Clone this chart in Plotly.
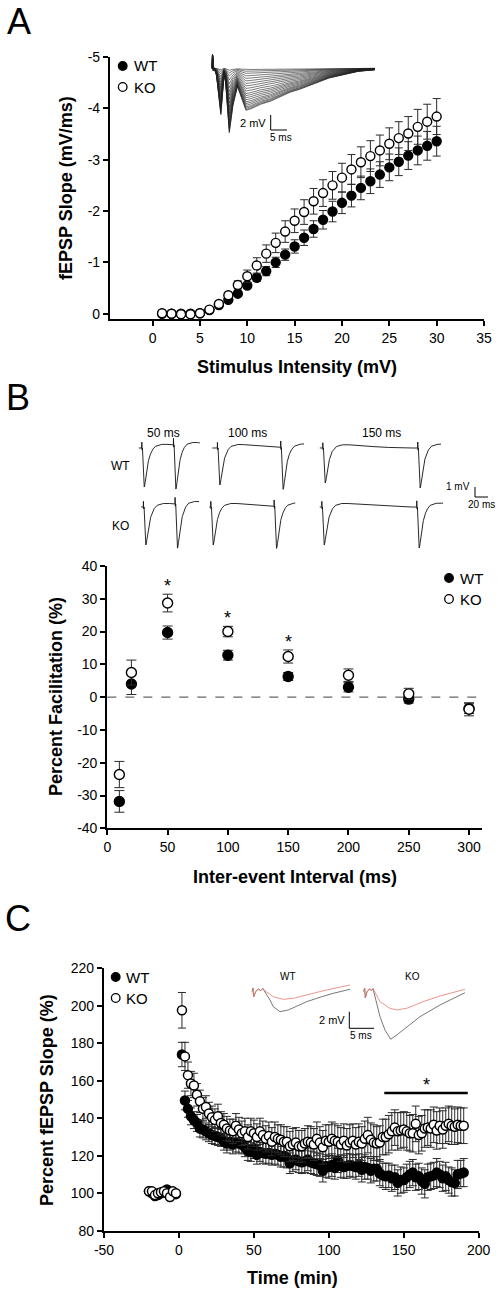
import numpy as np
import plotly.graph_objects as go

W, H = 498, 1293


def fx(px):
    return px / W


def fy(py):
    return 1 - py / H


FONT = "Liberation Sans, Arial, sans-serif"

# ---------------- Panel A : input-output ----------------
a_intensity = list(range(1, 31))
a_wt = [0.0, 0.0, 0.0, 0.0, -0.01, -0.07, -0.17, -0.27, -0.39, -0.55,
        -0.70, -0.83, -1.00, -1.15, -1.31, -1.48, -1.65, -1.83, -1.99, -2.16,
        -2.30, -2.45, -2.58, -2.71, -2.85, -2.96, -3.08, -3.18, -3.27, -3.36]
a_wt_err = [0.01, 0.01, 0.01, 0.01, 0.01, 0.02, 0.03, 0.03, 0.04, 0.06,
            0.07, 0.09, 0.10, 0.11, 0.13, 0.15, 0.16, 0.18, 0.20, 0.21,
            0.22, 0.23, 0.24, 0.25, 0.26, 0.27, 0.27, 0.28, 0.28, 0.29]
a_ko = [-0.01, 0.0, 0.01, 0.01, -0.01, -0.08, -0.19, -0.36, -0.56, -0.73,
        -0.94, -1.17, -1.38, -1.60, -1.81, -1.98, -2.19, -2.35, -2.50, -2.65,
        -2.81, -2.95, -3.07, -3.18, -3.31, -3.42, -3.51, -3.64, -3.74, -3.84]
a_ko_err = [0.01, 0.01, 0.01, 0.01, 0.01, 0.02, 0.03, 0.05, 0.08, 0.12,
            0.15, 0.17, 0.19, 0.21, 0.23, 0.24, 0.25, 0.26, 0.27, 0.28,
            0.29, 0.30, 0.30, 0.30, 0.31, 0.32, 0.33, 0.34, 0.34, 0.35]
a_xticks = [0, 5, 10, 15, 20, 25, 30, 35]
a_yticks = [-5, -4, -3, -2, -1, 0]
a_yticktext = ["-5", "-4", "-3", "-2", "-1", "0"]

# inset: largest evoked trace (ms, mV) and relative scale of the family
a_trace_t = [0, 0.25, 0.5, 0.8, 1.5, 2.8, 3.8, 4.3, 5.4, 6.5, 7.9, 9.0, 10.5, 12, 15,
             18, 21, 24, 27, 30, 33, 36, 40, 45, 50]
a_trace_v = [0, 1.8, -0.3, 0, -1.0, -6.2, -0.8, -2.0, -8.6, -5.0, -2.4, -3.8, -5.6, -5.4, -4.8,
             -4.4, -3.8, -3.2, -2.8, -2.3, -1.7, -1.3, -0.9, -0.4, -0.2]
a_trace_scale = [0.03, 0.07, 0.12, 0.18, 0.24, 0.30, 0.36, 0.42, 0.48, 0.54, 0.60,
                 0.65, 0.70, 0.75, 0.80, 0.84, 0.88, 0.92, 0.95, 0.98, 1.0]

# ---------------- Panel B : paired-pulse ----------------
b_interval = [10, 20, 50, 100, 150, 200, 250, 300]
b_wt = [-31.8, 4.0, 19.7, 12.8, 6.3, 3.0, -0.6, -3.5]
b_wt_err = [3.3, 3.2, 2.0, 1.5, 1.2, 1.4, 1.2, 1.5]
b_ko = [-23.6, 7.5, 28.7, 20.0, 12.4, 6.7, 1.0, -3.7]
b_ko_err = [4.0, 3.8, 2.7, 1.6, 2.0, 1.9, 1.7, 2.0]
b_sig = [50, 100, 150]
b_xticks = [0, 50, 100, 150, 200, 250, 300]
b_yticks = [-40, -30, -20, -10, 0, 10, 20, 30, 40]
b_yticktext = ["-40", "-30", "-20", "-10", "0", "10", "20", "30", "40"]

# sample PPF traces: normalised response template (ms after stimulus, fraction)
b_tmpl_t = [0, 0.2, 0.6, 1.2, 2.0, 3.0, 4.0, 5.0, 6.5, 8.5, 11, 15, 20, 27, 35, 50, 80, 120, 400]
b_tmpl_v = [0, 0.15, -0.05, 0.0, -0.35, -0.85, -1.0, -0.95, -0.75, -0.5, -0.3, -0.1,
            0.03, 0.08, 0.1, 0.08, 0.04, 0.0, 0.0]
b_isi = [50, 100, 150]
b_wt_amp = [(3.9, 4.4), (3.7, 4.2), (3.5, 4.0)]
b_ko_amp = [(3.8, 4.4), (3.8, 4.2), (3.8, 4.1)]
b_wt_span = [(-5, 92), (-8, 137), (-5, 187)]
b_ko_span = [(-3.5, 88), (-2.5, 134), (-3.5, 192)]

# ---------------- Panel C : LTP time course ----------------
c_time_base = [-20, -18, -16, -14, -12, -10, -8, -6, -4, -2]
c_wt_base = [101, 100, 98.5, 99, 100, 100.5, 102, 100.5, 100, 99.5]
c_ko_base = [101, 101, 99, 100, 100.5, 101, 100, 98, 101, 100]
c_wt_base_err = [1.2, 1.0, 1.3, 1.1, 1.2, 1.0, 1.4, 1.2, 1.1, 1.2]
c_ko_base_err = [1.3, 1.2, 1.4, 1.1, 1.3, 1.2, 1.2, 1.5, 1.3, 1.2]
c_time_post = list(range(2, 191, 2))
c_wt_post = [174, 149.5, 145, 141, 139, 137.5, 134.5, 134, 133, 132,
             131, 130.5, 130, 129.5, 127.5, 126.5, 127.5, 126, 127, 126.5,
             126, 124.5, 122.5, 122, 124, 120.5, 122, 121.5, 121, 121.5,
             120.5, 121, 120.5, 119.5, 120, 119, 116, 117.5, 118, 117,
             116.5, 117, 118, 116.5, 116, 115.5, 115, 112, 114.5, 114,
             115, 113.5, 117.5, 114.5, 114, 114.5, 115, 114.5, 114, 115,
             112.5, 114, 113.5, 112, 113, 113, 110.5, 109.5, 109, 109.5,
             108, 108.5, 105.5, 107, 107, 108.5, 110, 111, 108.5, 109,
             106.5, 105, 108.5, 109, 109.5, 111, 110, 108, 109, 107,
             106, 105.5, 110, 110.5, 111]
c_wt_post_err = [6.5, 5, 4.5, 4.5, 4.5, 4.5, 4.5, 4.5, 4.5, 4.5,
                 4.5, 4.5, 4.5, 4.5, 4.5, 5, 4.5, 5, 5, 5,
                 5, 5, 5, 5, 5.5, 5, 5, 5.5, 5.5, 5.5,
                 5.5, 5.5, 5.5, 5.5, 6, 5.5, 5.5, 6, 5.5, 6,
                 6, 6, 6, 6, 6, 6, 6, 6, 6, 6,
                 6, 6, 6.5, 6, 6, 6.5, 6, 6, 6.5, 6,
                 6.5, 6.5, 6, 6.5, 6.5, 6.5, 6.5, 6.5, 7, 6.5,
                 7, 6.5, 7, 7, 6.5, 7, 7, 7, 7, 7,
                 7, 7.5, 7, 7, 7, 7.5, 7, 7, 7.5, 7,
                 7.5, 7, 7.5, 7, 7.5]
c_ko_post = [197.6, 173, 163, 158.5, 157.5, 152.5, 149, 145, 146, 142.5,
             140.5, 139, 141, 137.5, 136.5, 134.5, 133.5, 133, 136, 134,
             132, 133, 130, 133, 132, 130, 133, 131, 129, 130.5,
             127.5, 130, 129, 128.5, 127.5, 127.5, 125, 126, 127, 125,
             125, 126.5, 127.5, 127, 126, 129, 127, 124.5, 128, 127.5,
             129, 128, 127.5, 126, 128, 125.5, 127, 128, 126, 127.5,
             126.5, 129, 131, 128.5, 127, 126.5, 127, 130, 130, 131.5,
             133, 135, 133, 133.5, 134, 133, 132, 132, 137, 131,
             132, 134.5, 135, 134.5, 136.5, 133.5, 136, 134, 136, 137,
             136, 135.5, 136.5, 136, 136]
c_ko_post_err = [9.5, 7.5, 7, 6.5, 6.5, 6, 6, 6, 6, 6,
                 6, 6, 6.5, 6, 6, 6.5, 6, 6.5, 6.5, 6.5,
                 6.5, 7, 6.5, 7, 7, 7, 7, 7.5, 7, 7.5,
                 7.5, 8, 7.5, 8, 8, 8, 8, 8.5, 8, 8.5,
                 8.5, 8, 8.5, 8.5, 8.5, 9, 8.5, 9, 8.5, 9,
                 9, 9, 8.5, 9, 9, 9, 9.5, 9, 9, 9.5,
                 9, 9.5, 9.5, 9, 9.5, 9, 9, 9.5, 9.5, 10,
                 10, 9.5, 10, 9.5, 9.5, 10, 9.5, 10, 9.5, 10,
                 9.5, 10, 9.5, 10, 9.5, 10, 9.5, 10, 9.5, 9.5,
                 10, 9.5, 9.5, 9.5, 9.5]
c_sig_start, c_sig_end, c_sig_level = 137, 192.7, 153.5
c_xticks = [-50, 0, 50, 100, 150, 200]
c_xticktext = ["-50", "0", "50", "100", "150", "200"]
c_yticks = [80, 100, 120, 140, 160, 180, 200, 220]

# inset traces (ms, mV): baseline (black) and post-LTP (red)
c_wt_black_t = [0, 0.26, 0.38, 0.81, 1.34, 1.82, 2.23, 2.69, 3.7, 4.37, 5.73, 7.41, 9.11, 11.13, 13.83, 16.52, 19.9]
c_wt_black_v = [0, 0.45, -0.64, 0, 0.33, 0.12, 0.41, 0, -1.0, -1.81, -2.41, -2.2, -1.72, -1.2, -0.67, -0.19, 0.29]
c_wt_red_t = [0, 0.26, 0.38, 0.81, 1.34, 1.82, 2.23, 2.69, 4.37, 6.4, 8.42, 11.13, 14.49, 19.9]
c_wt_red_v = [0, 0.45, -0.64, 0, 0.33, 0.12, 0.41, 0.12, -0.6, -0.92, -0.8, -0.4, 0.12, 0.81]
c_ko_black_t = [0, 0.28, 0.4, 0.75, 1.26, 1.66, 1.96, 2.71, 3.38, 4.39, 5.55, 6.76, 8.79, 11.48, 15.53, 20.59]
c_ko_black_v = [0, 0.45, -0.76, 0, 0.33, 0.14, 0.39, -1.4, -3.01, -4.61, -5.73, -5.22, -4.22, -3.01, -1.6, -0.12]
c_ko_red_t = [0, 0.28, 0.4, 0.75, 1.26, 1.66, 1.96, 2.71, 3.38, 5.4, 6.76, 8.79, 12.15, 15.53, 20.59]
c_ko_red_v = [0, 0.45, -0.76, 0, 0.33, 0.14, 0.39, -0.4, -1.2, -2.0, -2.2, -2.0, -1.2, -0.52, 0.29]

# ---------------------------------------------------------------
fig = go.Figure()
ERR = "#2a2a2a"


def add_series(x, y, err, xa, ya, filled, size, cap, lw=1.4):
    fig.add_trace(go.Scatter(
        x=x, y=y, mode="markers", xaxis=xa, yaxis=ya, showlegend=False, cliponaxis=False,
        error_y=dict(type="data", array=err, visible=True, color=ERR, thickness=1, width=cap),
        marker=dict(size=size, color="black" if filled else "white",
                    line=dict(color="black", width=lw))))


def add_line(x, y, xa, ya, color="#333333", width=0.7):
    fig.add_trace(go.Scatter(x=x, y=y, mode="lines", xaxis=xa, yaxis=ya, showlegend=False,
                             line=dict(color=color, width=width), hoverinfo="skip"))


# Panel A
add_series(a_intensity, a_wt, a_wt_err, "x", "y", True, 9, 4)
add_series(a_intensity, a_ko, a_ko_err, "x", "y", False, 9, 4)
for s in a_trace_scale:
    v = [s * val for val in a_trace_v]
    v[1] = a_trace_v[1]
    add_line(a_trace_t, v, "x4", "y4", color="#222222", width=0.6)

# Panel B
add_series(b_interval, b_wt, b_wt_err, "x2", "y2", True, 10, 5)
add_series(b_interval, b_ko, b_ko_err, "x2", "y2", False, 10, 5)


def ppf_trace(span, amp, isi):
    t = np.arange(span[0], span[1] + 0.01, 0.1)
    r1 = np.interp(t, b_tmpl_t, b_tmpl_v, left=0.0)
    r2 = np.interp(t - isi, b_tmpl_t, b_tmpl_v, left=0.0)
    return t, amp[0] * r1 + amp[1] * r2


for i in range(3):
    t, v = ppf_trace(b_wt_span[i], b_wt_amp[i], b_isi[i])
    add_line(t, v, "x%d" % (5 + i), "y%d" % (5 + i), color="#111111", width=0.9)
    t, v = ppf_trace(b_ko_span[i], b_ko_amp[i], b_isi[i])
    add_line(t, v, "x%d" % (8 + i), "y%d" % (8 + i), color="#111111", width=0.9)

# Panel C
add_series(c_time_base, c_wt_base, c_wt_base_err, "x3", "y3", True, 9, 4, lw=1.5)
add_series(c_time_post, c_wt_post, c_wt_post_err, "x3", "y3", True, 9, 4, lw=1.5)
add_series(c_time_base, c_ko_base, c_ko_base_err, "x3", "y3", False, 9, 4, lw=1.5)
add_series(c_time_post, c_ko_post, c_ko_post_err, "x3", "y3", False, 9, 4, lw=1.5)
add_line(c_wt_black_t, c_wt_black_v, "x11", "y11", color="#555555", width=0.8)
add_line(c_wt_red_t, c_wt_red_v, "x11", "y11", color="#e8786c", width=0.8)
add_line(c_ko_black_t, c_ko_black_v, "x12", "y12", color="#555555", width=0.8)
add_line(c_ko_red_t, c_ko_red_v, "x12", "y12", color="#e8786c", width=0.8)


# ---------------- axes ----------------
def main_axis(domain, rng, tickvals, ticktext, anchor):
    d = dict(domain=domain, range=rng, tickvals=tickvals, anchor=anchor,
             showline=True, linewidth=2.2, linecolor="black", ticks="outside", ticklen=5,
             tickwidth=1.5, tickcolor="black", showgrid=False, zeroline=False,
             tickfont=dict(family=FONT, size=14, color="black"), fixedrange=True,
             automargin=False)
    if ticktext is not None:
        d["ticktext"] = ticktext
    return d


def hidden_axis(domain, rng, anchor):
    return dict(domain=domain, range=rng, anchor=anchor, visible=False, fixedrange=True,
                showgrid=False, zeroline=False)


layout = dict(
    width=W, height=H, autosize=False, margin=dict(l=0, r=0, t=0, b=0, pad=0),
    paper_bgcolor="white", plot_bgcolor="rgba(0,0,0,0)", showlegend=False,
    font=dict(family=FONT, color="black"),
    xaxis=main_axis([fx(110), fx(484)], [-4.5, 35], a_xticks, None, "y"),
    yaxis=main_axis([fy(319), fy(57)], [0.103, -5], a_yticks, a_yticktext, "x"),
    xaxis2=main_axis([fx(107.3), fx(482.3)], [0, 311], b_xticks, None, "y2"),
    yaxis2=main_axis([fy(828.3), fy(566)], [-40, 40], b_yticks, b_yticktext, "x2"),
    xaxis3=main_axis([fx(104), fx(478.7)], [-50, 200], c_xticks, c_xticktext, "y3"),
    yaxis3=main_axis([fy(1230.7), fy(968.3)], [80, 220], c_yticks, None, "x3"),
    xaxis4=hidden_axis([fx(211.7), fx(376)], [0, 50.4], "y4"),
    yaxis4=hidden_axis([fy(138), fy(52)], [-9.29, 2.17], "x4"),
    xaxis11=hidden_axis([fx(251.7), fx(352)], [0, 20.3], "y11"),
    yaxis11=hidden_axis([fy(1042), fy(982)], [-6.06, 1.17], "x11"),
    xaxis12=hidden_axis([fx(363.3), fx(466)], [0, 20.8], "y12"),
    yaxis12=hidden_axis([fy(1042), fy(982)], [-6.06, 1.17], "x12"),
)
PX_PER_MS = 0.633
b_wt_stim_px = [141.7, 217.3, 322.7]
b_ko_stim_px = [143.3, 210.7, 321.7]
for i in range(3):
    sp = b_wt_span[i]
    k = 5 + i
    layout["xaxis%d" % k] = hidden_axis([fx(b_wt_stim_px[i] + sp[0] * PX_PER_MS),
                                         fx(b_wt_stim_px[i] + sp[1] * PX_PER_MS)], list(sp), "y%d" % k)
    layout["yaxis%d" % k] = hidden_axis([fy(494), fy(438)], [-4.6, 1.0], "x%d" % k)
    sp = b_ko_span[i]
    k = 8 + i
    layout["xaxis%d" % k] = hidden_axis([fx(b_ko_stim_px[i] + sp[0] * PX_PER_MS),
                                         fx(b_ko_stim_px[i] + sp[1] * PX_PER_MS)], list(sp), "y%d" % k)
    layout["yaxis%d" % k] = hidden_axis([fy(553), fy(497)], [-4.6, 1.0], "x%d" % k)

fig.update_layout(**layout)

# ---------------- annotations ----------------
ann = []


def txt(text, px, py, size, bold=False, angle=0, xanchor="center", yanchor="middle", color="black"):
    ann.append(dict(text=("<b>%s</b>" % text) if bold else text, x=fx(px), y=fy(py),
                    xref="paper", yref="paper", showarrow=False, textangle=angle,
                    xanchor=xanchor, yanchor=yanchor,
                    font=dict(family=FONT, size=size, color=color)))


TS = 18
# panel letters
txt("A", 19, 22, 36)
txt("B", 18, 397, 36)
txt("C", 18, 919, 36)
# axis titles
txt("Stimulus Intensity (mV)", 297, 367, TS, bold=True)
txt("fEPSP Slope (mV/ms)", 66, 188, TS, bold=True, angle=-90)
txt("Inter-event Interval (ms)", 295, 877, TS, bold=True)
txt("Percent Facilitation (%)", 56, 697, TS, bold=True, angle=-90)
txt("Time (min)", 292, 1278, TS, bold=True)
txt("Percent fEPSP Slope (%)", 47, 1100, TS, bold=True, angle=-90)
# legends
txt("WT", 132, 66, 15, xanchor="left")
txt("KO", 132, 87, 15, xanchor="left")
txt("WT", 458, 578, 15, xanchor="left")
txt("KO", 458, 599, 15, xanchor="left")
txt("WT", 124, 977, 15, xanchor="left")
txt("KO", 124, 998, 15, xanchor="left")
# inset labels
txt("2 mV", 268, 123, 11, xanchor="right")
txt("5 ms", 281, 138, 10)
txt("50 ms", 163, 433, 12)
txt("100 ms", 247, 433, 12)
txt("150 ms", 381, 433, 12)
txt("WT", 120, 466, 12)
txt("KO", 120, 526, 12)
txt("1 mV", 472, 486, 10, xanchor="right")
txt("20 ms", 481, 504, 10)
txt("WT", 288, 976, 10)
txt("KO", 412, 976, 10)
txt("2 mV", 347, 1020, 11, xanchor="right")
txt("5 ms", 361, 1035, 10)

# significance asterisks (data coordinates)
for xv, yv in zip(b_sig, [b_ko[2] + b_ko_err[2], b_ko[3] + b_ko_err[3], b_ko[4] + b_ko_err[4]]):
    ann.append(dict(text="*", x=xv, y=yv, xref="x2", yref="y2", showarrow=False,
                    yanchor="bottom", yshift=-4, font=dict(family=FONT, size=18, color="black")))
ann.append(dict(text="*", x=(c_sig_start + c_sig_end) / 2, y=c_sig_level, xref="x3", yref="y3",
                showarrow=False, yanchor="bottom", yshift=-4,
                font=dict(family=FONT, size=18, color="black")))
fig.update_layout(annotations=ann)

# ---------------- shapes ----------------
shapes = []


def dot(px, py, filled, r=4.3):
    shapes.append(dict(type="circle", xref="paper", yref="paper", xsizemode="pixel", ysizemode="pixel",
                       xanchor=fx(px), yanchor=fy(py), x0=-r, x1=r, y0=-r, y1=r,
                       fillcolor="black" if filled else "white", line=dict(color="black", width=1.3)))


def seg(x0, y0, x1, y1, w=1.0, color="black"):
    shapes.append(dict(type="line", xref="paper", yref="paper", x0=fx(x0), y0=fy(y0), x1=fx(x1), y1=fy(y1),
                       line=dict(color=color, width=w)))


dot(122.7, 66, True)
dot(122.7, 87, False)
dot(449, 578, True)
dot(449, 599, False)
dot(115.7, 977, True)
dot(115.7, 998, False)
# scale bars
seg(270.7, 115, 270.7, 130)
seg(270.7, 130, 287, 130)
seg(475, 487, 475, 497)
seg(475, 497, 488, 497)
seg(349.3, 1011.7, 349.3, 1028.3)
seg(349.3, 1028.3, 374, 1028.3)
# zero line in B
shapes.append(dict(type="line", xref="x2 domain", yref="y2", x0=0, x1=1, y0=0, y1=0,
                   line=dict(color="#666666", width=1.2, dash="dash"), layer="below"))
# significance bar in C
shapes.append(dict(type="line", xref="x3", yref="y3", x0=c_sig_start, x1=c_sig_end,
                   y0=c_sig_level, y1=c_sig_level, line=dict(color="black", width=2.5)))
fig.update_layout(shapes=shapes)

fig.write_html("out.html", config={"displayModeBar": False, "responsive": False},
               post_script="document.body.style.margin='0';document.body.style.overflow='hidden';")
